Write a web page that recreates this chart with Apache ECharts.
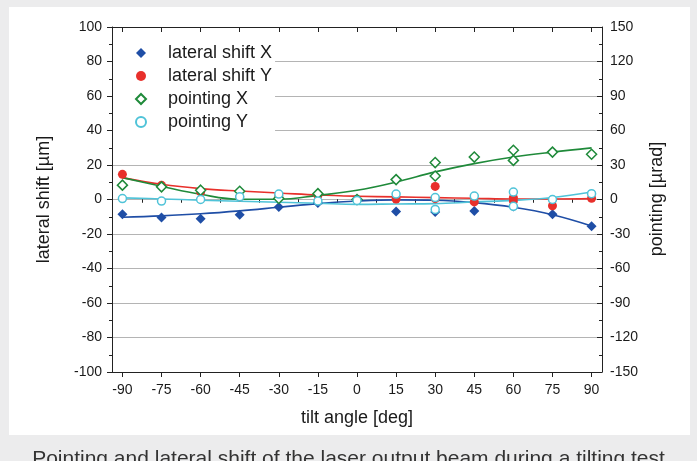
<!DOCTYPE html>
<html>
<head>
<meta charset="utf-8">
<style>
  html, body { margin: 0; padding: 0; background: #ececed; }
  #chart { width: 697px; height: 461px; }
</style>
<script src="https://cdn.jsdelivr.net/npm/echarts@6/dist/echarts.min.js"></script>
</head>
<body>
<div id="chart"></div>
<script>
// tilt angles of the measurement (deg), repeated angles measured twice
const tiltAngles = [-90, -75, -60, -45, -30, -15, 0, 15, 30, 45, 60, 75, 90];
const repeatAngles = [30, 60];
const majorTicks = [-90, -75, -60, -45, -30, -15, 0, 15, 30, 45, 60, 75, 90];
const minorTicks = [-82.5, -67.5, -52.5, -37.5, -22.5, -7.5, 7.5, 22.5, 37.5, 52.5, 67.5, 82.5];

// lateral shift [µm]
const lateralX = [-8.6, -10.5, -11.1, -8.8, -4.4, -2.0, -0.5, -7.0, -7.2, -6.6, -4.0, -8.6, -15.5];
const lateralXRepeat = [null, null];
const lateralY = [14.6, 8.2, 4.4, 1.5, 2.0, 2.4, 0.0, 0.3, 7.6, -1.4, -0.8, -3.6, 0.7];
const lateralYRepeat = [0.5, 1.1];
const lateralXFit = [-10.3, -9.5, -8.3, -6.6, -4.5, -2.4, -0.9, -0.2, -0.4, -1.8, -4.5, -8.8, -15.3];
const lateralYFit = [12.7, 8.8, 6.3, 4.9, 3.8, 2.6, 1.9, 1.5, 1.1, 0.7, 0.3, 0.3, 0.5];

// pointing [µrad]
const pointingX = [12.5, 11.0, 8.1, 7.2, 0.9, 5.1, 0.0, 17.3, 20.4, 36.9, 34.0, 41.2, 39.3];
const pointingXRepeat = [32.1, 42.8];
const pointingY = [0.8, -1.4, 0.0, 2.3, 4.7, -1.4, -0.8, 4.7, 1.7, 3.0, 6.5, 0.0, 5.1];
const pointingYRepeat = [-8.6, -5.9];
const pointingXFit = [19.0, 11.5, 4.5, 0.2, 0.2, 3.6, 8.0, 15.2, 24.0, 31.2, 36.9, 41.2, 44.9];
const pointingYFit = [1.4, 0.5, -0.6, -1.5, -2.4, -3.3, -4.2, -3.9, -3.6, -2.1, -0.8, 1.7, 6.5];

const blue = '#1f4ea6', red = '#e8302b', green = '#1f8a3a', cyan = '#4fc3d8';
const font = '"Liberation Sans", Arial, Helvetica, sans-serif';

function pairs(xs, ys, xs2, ys2) {
  const out = [];
  xs.forEach((x, i) => { if (ys[i] != null) out.push([x, ys[i]]); });
  if (xs2) xs2.forEach((x, i) => { if (ys2[i] != null) out.push([x, ys2[i]]); });
  return out;
}

const chart = echarts.init(document.getElementById('chart'));

const xBase = {
  type: 'value', min: -94, max: 94,
  splitLine: { show: false },
  axisLabel: { show: false },
  axisLine: { show: false }
};

const option = {
  backgroundColor: '#ececed',
  animation: false,
  textStyle: { fontFamily: font },
  graphic: [{
    type: 'rect', z: -10, silent: true,
    shape: { x: 9, y: 7, width: 681, height: 428 },
    style: { fill: '#fff' }
  }, {
    // right axis title, reading bottom to top like the left one
    type: 'text', x: 657, y: 199, rotation: Math.PI / 2, silent: true,
    style: {
      text: 'pointing [µrad]', fill: '#1a1a1a',
      font: '18px "Liberation Sans", Arial, sans-serif',
      align: 'center', verticalAlign: 'middle'
    }
  }],
  title: {
    text: 'Pointing and lateral shift of the laser output beam during a tilting test',
    left: 'center', top: 444,
    textStyle: { fontFamily: font, fontSize: 21, fontWeight: 'normal', color: '#333' }
  },
  grid: { left: 112, right: 95, top: 27, bottom: 89 },
  legend: {
    data: ['lateral shift X', 'lateral shift Y', 'pointing X', 'pointing Y'],
    orient: 'vertical', left: 113, top: 39,
    backgroundColor: '#fff',
    padding: [5, 3, 6, 22],
    itemGap: 5, itemWidth: 10, itemHeight: 10,
    selectedMode: false,
    textStyle: { fontFamily: font, fontSize: 18, color: '#1a1a1a', padding: [0, 0, 0, 17] }
  },
  xAxis: [
    Object.assign({}, xBase, {
      position: 'bottom',
      name: 'tilt angle [deg]', nameLocation: 'middle', nameGap: 37,
      nameTextStyle: { fontFamily: font, fontSize: 18, color: '#1a1a1a' },
      axisLine: { show: true, onZero: false, lineStyle: { color: '#222', width: 1 } },
      axisTick: { show: true, inside: false, length: 5, customValues: majorTicks, lineStyle: { color: '#222' } },
      axisLabel: { show: true, customValues: majorTicks, margin: 11, fontSize: 14, color: '#1a1a1a', fontFamily: font }
    }),
    Object.assign({}, xBase, {
      position: 'bottom',
      axisTick: { show: true, inside: false, length: 3, customValues: minorTicks, lineStyle: { color: '#222' } }
    }),
    Object.assign({}, xBase, {
      position: 'top',
      axisLine: { show: true, onZero: false, lineStyle: { color: '#222', width: 1 } },
      axisTick: { show: true, inside: true, length: 5, customValues: majorTicks, lineStyle: { color: '#222' } }
    }),
    Object.assign({}, xBase, {
      position: 'top',
      axisTick: { show: true, inside: true, length: 3, customValues: minorTicks, lineStyle: { color: '#222' } }
    })
  ],
  yAxis: [{
    type: 'value', position: 'left', min: -100, max: 100, interval: 20,
    name: 'lateral shift [µm]', nameLocation: 'middle', nameGap: 59, nameRotate: 90,
    nameTextStyle: { fontFamily: font, fontSize: 18, color: '#1a1a1a' },
    axisLine: { show: true, onZero: false, lineStyle: { color: '#222', width: 1 } },
    axisTick: { show: true, inside: false, length: 5, lineStyle: { color: '#222' } },
    minorTick: { show: true, splitNumber: 2, length: 3, lineStyle: { color: '#222' } },
    axisLabel: { margin: 10, fontSize: 14, color: '#1a1a1a', fontFamily: font },
    splitLine: { show: true, lineStyle: { color: '#b4b4b4', width: 1 } }
  }, {
    type: 'value', position: 'right', min: -150, max: 150, interval: 30,
    axisLine: { show: true, onZero: false, lineStyle: { color: '#222', width: 1 } },
    axisTick: { show: true, inside: true, length: 5, lineStyle: { color: '#222' } },
    minorTick: { show: true, splitNumber: 2, length: 3, lineStyle: { color: '#222' } },
    axisLabel: { margin: 8, fontSize: 14, color: '#1a1a1a', fontFamily: font },
    splitLine: { show: false }
  }],
  series: [
    // fit curves
    { name: 'fit lateral X', type: 'line', yAxisIndex: 0, smooth: 0.4, showSymbol: false, z: 1,
      lineStyle: { color: blue, width: 1.6 }, data: pairs(tiltAngles, lateralXFit) },
    { name: 'fit lateral Y', type: 'line', yAxisIndex: 0, smooth: 0.4, showSymbol: false, z: 1,
      lineStyle: { color: red, width: 1.6 }, data: pairs(tiltAngles, lateralYFit) },
    { name: 'fit pointing X', type: 'line', yAxisIndex: 1, smooth: 0.4, showSymbol: false, z: 1,
      lineStyle: { color: green, width: 1.6 }, data: pairs(tiltAngles, pointingXFit) },
    { name: 'fit pointing Y', type: 'line', yAxisIndex: 1, smooth: 0.4, showSymbol: false, z: 1,
      lineStyle: { color: cyan, width: 1.6 }, data: pairs(tiltAngles, pointingYFit) },
    // measured points
    { name: 'lateral shift X', type: 'scatter', yAxisIndex: 0, symbol: 'diamond', symbolSize: 10, z: 3,
      itemStyle: { color: blue, opacity: 1 }, data: pairs(tiltAngles, lateralX, repeatAngles, lateralXRepeat) },
    { name: 'lateral shift Y', type: 'scatter', yAxisIndex: 0, symbol: 'circle', symbolSize: 9, z: 3,
      itemStyle: { color: red, opacity: 1 }, data: pairs(tiltAngles, lateralY, repeatAngles, lateralYRepeat) },
    { name: 'pointing X', type: 'scatter', yAxisIndex: 1, symbol: 'diamond', symbolSize: 10, z: 3,
      itemStyle: { color: '#fff', borderColor: green, borderWidth: 1.5, opacity: 1 },
      data: pairs(tiltAngles, pointingX, repeatAngles, pointingXRepeat) },
    { name: 'pointing Y', type: 'scatter', yAxisIndex: 1, symbol: 'circle', symbolSize: 8, z: 3,
      itemStyle: { color: '#fff', borderColor: cyan, borderWidth: 1.5, opacity: 1 },
      data: pairs(tiltAngles, pointingY, repeatAngles, pointingYRepeat) }
  ]
};

chart.setOption(option);
</script>
</body>
</html>
